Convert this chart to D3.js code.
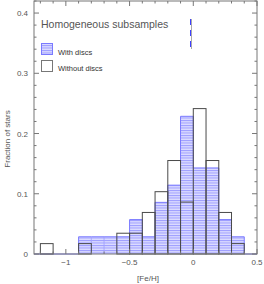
<!DOCTYPE html>
<html><head><meta charset="utf-8">
<script src="https://cdn.jsdelivr.net/npm/d3@7"></script>
<style>body{margin:0;background:#fff}svg{display:block}</style>
</head><body>
<script>
// bin left edges, width 0.1
const binWidth = 0.1;
const discBins = [-0.9,-0.8,-0.7,-0.6,-0.5,-0.4,-0.3,-0.2,-0.1,0.0,0.1,0.2,0.3];
const discCounts = [1,1,1,1,2,1,3,4,8,5,5,2,1];        // N = 35
const noDiscBins = [-1.2,-1.1,-1.0,-0.9,-0.8,-0.7,-0.6,-0.5,-0.4,-0.3,-0.2,-0.1,0.0,0.1,0.2,0.3];
const noDiscCounts = [1,0,0,1,0,0,2,2,4,6,9,5,14,9,4,1]; // N = 58
const xTicks = [-1,-0.5,0,0.5];
const xTickLabels = ["\u22121","\u22120.5","0","0.5"];
const yTicks = [0,0.1,0.2,0.3,0.4];
const yTickLabels = ["0","0.1","0.2","0.3","0.4"];
const legendLabels = ["With discs","Without discs"];
const title = "Homogeneous subsamples";

const W=264,H=284;
const m={l:34,r:7,t:1,b:30};
const svg=d3.select("body").append("svg").attr("width",W).attr("height",H);
const x=d3.scaleLinear().domain([-1.25,0.5]).range([m.l,W-m.r]);
const y=d3.scaleLinear().domain([0,0.42]).range([H-m.b,m.t]);

const defs=svg.append("defs");
const pat=defs.append("pattern").attr("id","hatch").attr("patternUnits","userSpaceOnUse")
  .attr("width",4).attr("height",2.5);
pat.append("rect").attr("width",4).attr("height",2.5).attr("fill","#dcdcff");
pat.append("rect").attr("y",0).attr("width",4).attr("height",1).attr("fill","#9c9cff");

const sumD=d3.sum(discCounts), sumN=d3.sum(noDiscCounts);
const discData=discBins.map((b,i)=>({x0:b,x1:b+binWidth,v:discCounts[i]/sumD}));
const noData=noDiscBins.map((b,i)=>({x0:b,x1:b+binWidth,v:noDiscCounts[i]/sumN}));

// hatched fill
svg.append("g").selectAll("rect").data(discData).join("rect")
  .attr("x",d=>x(d.x0)).attr("y",d=>y(d.v))
  .attr("width",d=>x(d.x1)-x(d.x0)).attr("height",d=>y(0)-y(d.v))
  .attr("fill","url(#hatch)");

function stepPath(data, start, end){
  const p=d3.path();
  p.moveTo(x(start),y(0));
  p.lineTo(x(data[0].x0),y(0));
  data.forEach(d=>{p.lineTo(x(d.x0),y(d.v));p.lineTo(x(d.x1),y(d.v));});
  p.lineTo(x(data[data.length-1].x1),y(0));
  p.lineTo(x(end),y(0));
  return p.toString();
}
// blue outline
svg.append("path").attr("d",stepPath(discData,-1.25,0.5)).attr("fill","none")
  .attr("stroke","#7a7aff").attr("stroke-width",1);
// inner blue edges
svg.append("g").selectAll("line").data(discData.slice(1)).join("line")
  .attr("x1",d=>x(d.x0)).attr("x2",d=>x(d.x0)).attr("y1",y(0))
  .attr("y2",(d,i)=>Math.max(y(d.v),y(discData[i].v)))
  .attr("stroke","#9a9aff").attr("stroke-width",0.8);

// black histogram: bars with outlines
svg.append("g").selectAll("rect").data(noData.filter(d=>d.v>0)).join("rect")
  .attr("x",d=>x(d.x0)).attr("y",d=>y(d.v))
  .attr("width",d=>x(d.x1)-x(d.x0)).attr("height",d=>y(0)-y(d.v))
  .attr("fill","none").attr("stroke","#4a4a4a").attr("stroke-width",1);

// axes frame
const axc="#777";
const g=svg.append("g").attr("stroke",axc).attr("fill","none");
g.append("rect").attr("x",x(-1.25)).attr("y",y(0.42)).attr("width",x(0.5)-x(-1.25))
  .attr("height",y(0)-y(0.42)).attr("stroke-width",1);
const xminor=d3.range(-12,6).map(i=>i/10);
const yminor=d3.range(0,22).map(i=>i*0.02);
xminor.forEach(v=>{
  const maj=Math.abs(v*2-Math.round(v*2))<1e-6;
  const L=maj?5:2.5;
  g.append("line").attr("x1",x(v)).attr("x2",x(v)).attr("y1",y(0)).attr("y2",y(0)-L);
  g.append("line").attr("x1",x(v)).attr("x2",x(v)).attr("y1",y(0.42)).attr("y2",y(0.42)+L);
});
yminor.forEach(v=>{
  const maj=Math.abs(v*10-Math.round(v*10))<1e-6;
  const L=maj?5:2.5;
  g.append("line").attr("x1",x(-1.25)).attr("x2",x(-1.25)+L).attr("y1",y(v)).attr("y2",y(v));
  g.append("line").attr("x1",x(0.5)).attr("x2",x(0.5)-L).attr("y1",y(v)).attr("y2",y(v));
});

const font="Liberation Sans, Arial, sans-serif";
svg.append("g").selectAll("text").data(xTicks).join("text")
  .attr("x",d=>x(d)).attr("y",y(0)+11).attr("text-anchor","middle")
  .attr("font-family",font).attr("font-size",8).attr("fill","#555")
  .text((d,i)=>xTickLabels[i]);
svg.append("g").selectAll("text").data(yTicks).join("text")
  .attr("x",x(-1.25)-6).attr("y",d=>y(d)+3).attr("text-anchor","end")
  .attr("font-family",font).attr("font-size",8).attr("fill","#555")
  .text((d,i)=>yTickLabels[i]);

svg.append("text").attr("x",148).attr("y",281).attr("text-anchor","middle")
  .attr("font-family",font).attr("font-size",8).attr("fill","#555").text("[Fe/H]");
svg.append("text").attr("transform","translate(10,139) rotate(-90)").attr("text-anchor","middle")
  .attr("font-family",font).attr("font-size",8).attr("fill","#555").text("Fraction of stars");

svg.append("text").attr("x",41).attr("y",28).attr("font-family",font).attr("font-size",10.5)
  .attr("fill","#555").text(title);

// legend
svg.append("rect").attr("x",41.5).attr("y",43.5).attr("width",11).attr("height",11)
  .attr("fill","url(#hatch)").attr("stroke","#7a7aff");
svg.append("rect").attr("x",41.5).attr("y",60.5).attr("width",11).attr("height",11)
  .attr("fill","none").attr("stroke","#777");
svg.append("text").attr("x",58).attr("y",55).attr("font-family",font).attr("font-size",7.5)
  .attr("fill","#333").text(legendLabels[0]);
svg.append("text").attr("x",58).attr("y",71).attr("font-family",font).attr("font-size",7.5)
  .attr("fill","#333").text(legendLabels[1]);

// dashed marker line
svg.append("line").attr("x1",191.5).attr("x2",191.5).attr("y1",19).attr("y2",49)
  .attr("stroke","#aaa").attr("stroke-width",1);
svg.append("line").attr("x1",190.5).attr("x2",190.5).attr("y1",19).attr("y2",49)
  .attr("stroke","#4040ff").attr("stroke-width",1).attr("stroke-dasharray","6,5");
</script>
</body></html>
